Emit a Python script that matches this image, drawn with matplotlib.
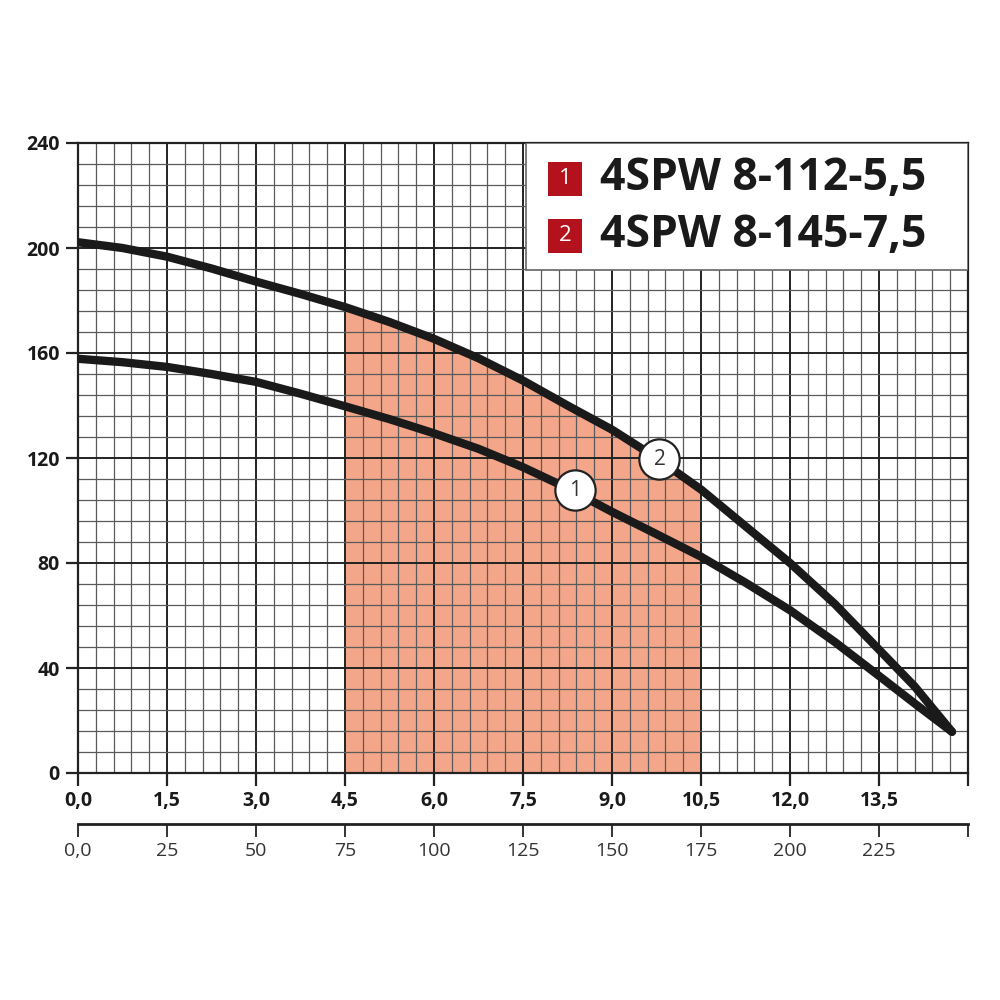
import matplotlib.pyplot as plt
from matplotlib.patches import Rectangle
from matplotlib.ticker import MultipleLocator, FixedLocator

# flow, m3/h
flow = [0, 0.75, 1.5, 2.25, 3.0, 3.75, 4.5, 5.25, 6.0, 6.75, 7.5, 8.25,
        9.0, 9.75, 10.5, 11.25, 12.0, 12.75, 13.5, 14.1, 14.73]
# head, m
head_1 = [157.8, 156.5, 154.7, 152.0, 149.0, 144.5, 139.7, 134.8, 129.4, 123.5,
          116.5, 108.5, 99.5, 91.0, 82.4, 72.5, 62.0, 50.0, 37.0, 26.5, 15.7]
head_2 = [202.2, 200.0, 196.7, 192.2, 187.2, 182.5, 177.5, 171.8, 165.4, 158.0,
          149.5, 140.0, 130.8, 120.0, 108.0, 94.0, 80.0, 64.5, 47.0, 33.0, 15.7]

work_range = (4.5, 10.5)
x_ticks = [0, 1.5, 3.0, 4.5, 6.0, 7.5, 9.0, 10.5, 12.0, 13.5]
x_labels = ["0,0", "1,5", "3,0", "4,5", "6,0", "7,5", "9,0", "10,5", "12,0", "13,5"]
y_ticks = [0, 40, 80, 120, 160, 200, 240]
lmin_ticks = [0, 25, 50, 75, 100, 125, 150, 175, 200, 225, 250]
lmin_labels = ["0,0", "25", "50", "75", "100", "125", "150", "175", "200", "225", ""]
models = ["4SPW 8-112-5,5", "4SPW 8-145-7,5"]
label_pos = [(8.38, 107.8), (9.80, 119.5)]

plt.rcParams["font.family"] = ["Open Sans", "DejaVu Sans"]

fig = plt.figure(figsize=(10, 10), dpi=100)
ax = fig.add_axes([0.078, 0.227, 0.89, 0.630])
ax.set_xlim(0, 15)
ax.set_ylim(0, 240)

# grid
ax.xaxis.set_major_locator(MultipleLocator(1.5))
ax.xaxis.set_minor_locator(MultipleLocator(0.3))
ax.yaxis.set_major_locator(MultipleLocator(40))
ax.yaxis.set_minor_locator(MultipleLocator(8))
ax.grid(which="major", color="#222222", linewidth=1.4, zorder=2)
ax.grid(which="minor", color="#5a5a5a", linewidth=0.9, zorder=2)
ax.set_axisbelow("line")

ax.xaxis.set_major_locator(FixedLocator(x_ticks + [15]))
ax.set_xticklabels(x_labels + [""], fontweight="bold", fontsize=14, color="#1a1a1a")
ax.set_yticks(y_ticks)
ax.set_yticklabels([str(v) for v in y_ticks], fontweight="bold", fontsize=14, color="#1a1a1a")
ax.tick_params(which="major", length=9, width=1.6, color="#222222", pad=4)
ax.tick_params(which="minor", length=0)
for s in ax.spines.values():
    s.set_color("#222222")
    s.set_linewidth(1.6)

# working range
sel = [i for i, q in enumerate(flow) if work_range[0] <= q <= work_range[1]]
ax.fill_between([flow[i] for i in sel], 0, [head_2[i] for i in sel],
                color="#f4a68a", linewidth=0, zorder=1)

# curves
ax.plot(flow, head_1, color="#1a1a1a", linewidth=6, solid_capstyle="round",
        solid_joinstyle="round", zorder=3)
ax.plot(flow, head_2, color="#1a1a1a", linewidth=6, solid_capstyle="round",
        solid_joinstyle="round", zorder=3)

for i, (x, y) in enumerate(label_pos):
    ax.plot(x, y, marker="o", markersize=29, markerfacecolor="white",
            markeredgecolor="#222222", markeredgewidth=1.6, zorder=4)
    ax.text(x, y, str(i + 1), ha="center", va="center", fontsize=15, color="#333333", zorder=5)

# legend box
ax.add_patch(Rectangle((7.55, 191.6), 15 - 7.55, 240 - 191.6, facecolor="white",
                       edgecolor="#666666", linewidth=1.2, zorder=6))
for i, (name, yc) in enumerate(zip(models, [0.821, 0.7645])):
    fig.add_artist(Rectangle((0.548, yc - 0.017), 0.034, 0.034, transform=fig.transFigure,
                             facecolor="#b3121d", edgecolor="none", zorder=7))
    fig.text(0.565, yc, str(i + 1), ha="center", va="center", fontsize=16,
             color="white", zorder=8)
    fig.text(0.600, yc, name, ha="left", va="center", fontsize=32,
             fontweight="bold", color="#1a1a1a", zorder=8)

# second flow scale, l/min
sec = ax.secondary_xaxis(-0.081, functions=(lambda q: q * 50 / 3, lambda l: l * 3 / 50))
sec.set_xticks(lmin_ticks)
sec.set_xticklabels(lmin_labels, fontsize=14, color="#333333")
sec.tick_params(length=9, width=1.4, color="#333333", pad=4)
sec.spines["bottom"].set_linewidth(2)
sec.spines["bottom"].set_color("#222222")

fig.savefig("out.png", dpi=100, facecolor="white")
